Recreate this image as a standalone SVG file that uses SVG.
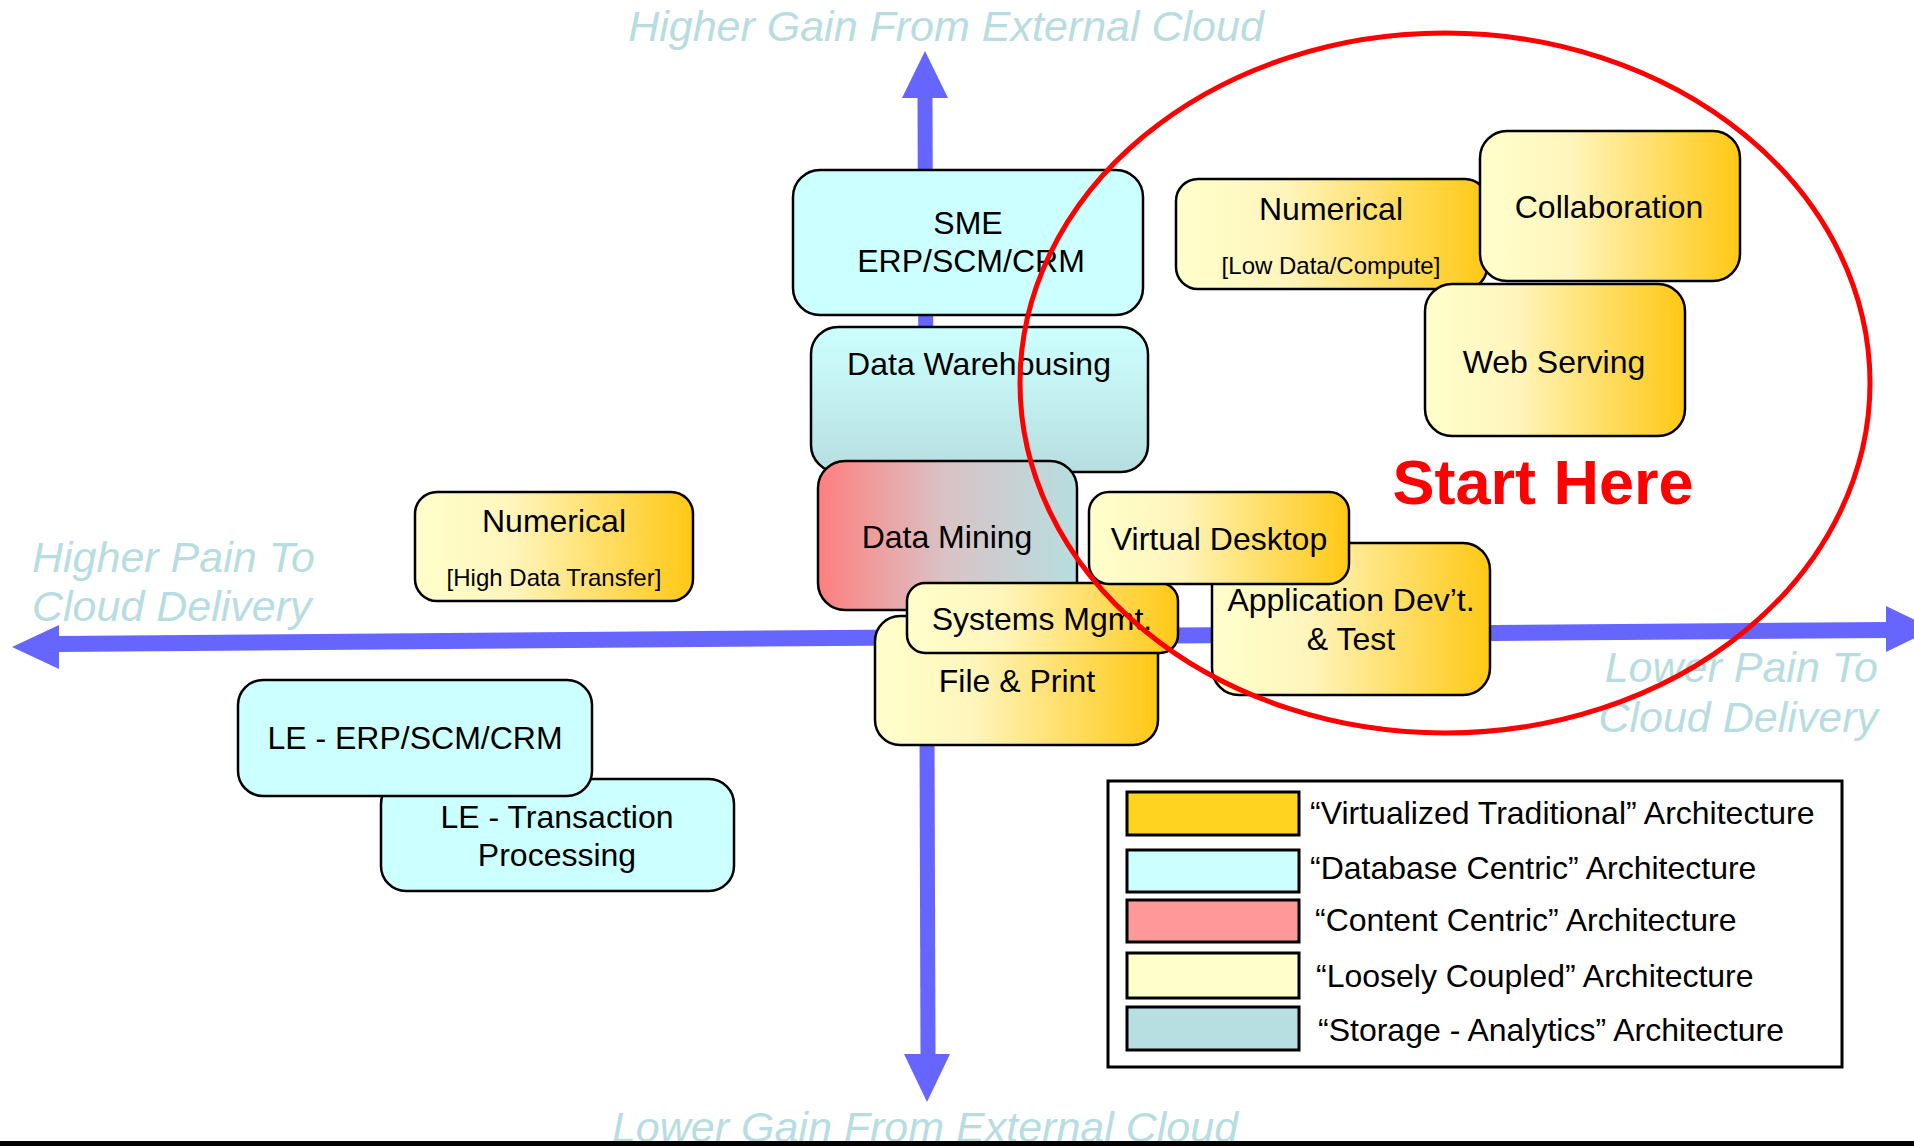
<svg xmlns="http://www.w3.org/2000/svg" width="1914" height="1146" viewBox="0 0 1914 1146">
  <defs>
    <linearGradient id="gYellow" x1="0" y1="0" x2="1" y2="0">
      <stop offset="0" stop-color="#FFFFCC"/>
      <stop offset="0.35" stop-color="#FFF5BC"/>
      <stop offset="1" stop-color="#FFC814"/>
    </linearGradient>
    <linearGradient id="gWarehouse" x1="0" y1="0" x2="0" y2="1">
      <stop offset="0" stop-color="#CCFFFF"/>
      <stop offset="0.25" stop-color="#C8F8F8"/>
      <stop offset="1" stop-color="#B7DEE0"/>
    </linearGradient>
    <linearGradient id="gMining" x1="0" y1="0" x2="1" y2="0">
      <stop offset="0" stop-color="#FF7F7F"/>
      <stop offset="0.5" stop-color="#D9C3C6"/>
      <stop offset="1" stop-color="#B7DEE0"/>
    </linearGradient>
    <style>
      .box { stroke: #000; stroke-width: 2.5; }
      .db { fill: #CCFFFF; }
      .vt { fill: url(#gYellow); }
      .lbl { font-family: "Liberation Sans", Arial, sans-serif; font-size: 32px; fill: #000; text-anchor: middle; }
      .sub { font-family: "Liberation Sans", Arial, sans-serif; font-size: 24px; fill: #000; text-anchor: middle; }
      .axis { font-family: "Liberation Sans", Arial, sans-serif; font-size: 43px; font-style: italic; fill: #B7DDE0; }
      .leg { font-family: "Liberation Sans", Arial, sans-serif; font-size: 32px; fill: #000; }
      .sw { stroke: #000; stroke-width: 3; }
      .ax { fill: #6666FF; }
    </style>
  </defs>

  <rect x="0" y="0" width="1914" height="1146" fill="#fff"/>

  <!-- axis captions -->
  <text class="axis" x="946" y="41" text-anchor="middle">Higher Gain From External Cloud</text>
  <text class="axis" x="32" y="572">Higher Pain To</text>
  <text class="axis" x="32" y="621">Cloud Delivery</text>
  <text class="axis" x="1878" y="682" text-anchor="end">Lower Pain To</text>
  <text class="axis" x="1878" y="732" text-anchor="end">Cloud Delivery</text>
  <text class="axis" x="925" y="1142" text-anchor="middle">Lower Gain From External Cloud</text>

  <!-- the two axes -->
  <g id="connectors">
    <polygon class="ax" points="917.5,96 932.5,96 935.5,1056 920.5,1056"/>
    <polygon class="ax" points="925,51 948,98 902,98"/>
    <polygon class="ax" points="927,1102 904,1054 950,1054"/>
    <polygon class="ax" points="57,636 1888,622 1888,638 57,652"/>
    <polygon class="ax" points="12,647 59,625 59,669"/>
    <polygon class="ax" points="1934,629 1886,606 1886,652"/>
  </g>

  <g id="le-transaction">
    <rect class="box db" x="381" y="779" width="353" height="112" rx="25"/>
    <text class="lbl" x="557" y="828">LE - Transaction</text>
    <text class="lbl" x="557" y="866">Processing</text>
  </g>
  <g id="le-erp">
    <rect class="box db" x="238" y="680" width="354" height="116" rx="25"/>
    <text class="lbl" x="415" y="749">LE - ERP/SCM/CRM</text>
  </g>
  <g id="numerical-high">
    <rect class="box vt" x="415" y="492" width="278" height="109" rx="22"/>
    <text class="lbl" x="554" y="532">Numerical</text>
    <text class="sub" x="554" y="586">[High Data Transfer]</text>
  </g>
  <g id="sme-erp">
    <rect class="box db" x="793" y="170" width="350" height="145" rx="27"/>
    <text class="lbl" x="968" y="234">SME</text>
    <text class="lbl" x="971" y="272">ERP/SCM/CRM</text>
  </g>
  <g id="data-warehousing">
    <rect class="box" fill="url(#gWarehouse)" x="811" y="327" width="337" height="145" rx="27"/>
    <text class="lbl" x="979" y="375">Data Warehousing</text>
  </g>
  <g id="data-mining">
    <rect class="box" fill="url(#gMining)" x="818" y="461" width="259" height="149" rx="27"/>
    <text class="lbl" x="947" y="548">Data Mining</text>
  </g>
  <g id="file-print">
    <rect class="box vt" x="875" y="616" width="283" height="129" rx="25"/>
    <text class="lbl" x="1017" y="692">File &amp; Print</text>
  </g>
  <g id="systems-mgmt">
    <rect class="box vt" x="907" y="583" width="271" height="70" rx="18"/>
    <text class="lbl" x="1042" y="630">Systems Mgmt.</text>
  </g>
  <g id="app-dev-test">
    <rect class="box vt" x="1212" y="543" width="278" height="152" rx="27"/>
    <text class="lbl" x="1351" y="611">Application Dev’t.</text>
    <text class="lbl" x="1351" y="650">&amp; Test</text>
  </g>
  <g id="virtual-desktop">
    <rect class="box vt" x="1089" y="492" width="260" height="92" rx="20"/>
    <text class="lbl" x="1219" y="550">Virtual Desktop</text>
  </g>
  <g id="numerical-low">
    <rect class="box vt" x="1176" y="179" width="311" height="110" rx="22"/>
    <text class="lbl" x="1331" y="220">Numerical</text>
    <text class="sub" x="1331" y="274">[Low Data/Compute]</text>
  </g>
  <g id="web-serving">
    <rect class="box vt" x="1425" y="284" width="260" height="152" rx="27"/>
    <text class="lbl" x="1554" y="373">Web Serving</text>
  </g>
  <g id="collaboration">
    <rect class="box vt" x="1480" y="131" width="260" height="150" rx="27"/>
    <text class="lbl" x="1609" y="218">Collaboration</text>
  </g>

  <!-- focus region -->
  <g id="start-here">
    <ellipse cx="1445" cy="383" rx="425" ry="350" fill="none" stroke="#FF0000" stroke-width="5"/>
    <text x="1543" y="504" text-anchor="middle" font-family="Liberation Sans, Arial, sans-serif" font-size="63" font-weight="bold" fill="#FF0000">Start Here</text>
  </g>

  <!-- legend -->
  <g id="legend">
    <rect x="1108" y="781" width="734" height="286" fill="#fff" stroke="#000" stroke-width="3"/>
    <rect class="sw" x="1127" y="792" width="172" height="43" fill="#FFD320"/>
    <text class="leg" x="1310" y="824">“Virtualized Traditional” Architecture</text>
    <rect class="sw" x="1127" y="850" width="172" height="42" fill="#CCFFFF"/>
    <text class="leg" x="1310" y="879">“Database Centric” Architecture</text>
    <rect class="sw" x="1127" y="900" width="172" height="42" fill="#FF9999"/>
    <text class="leg" x="1315" y="931">“Content Centric” Architecture</text>
    <rect class="sw" x="1127" y="953" width="172" height="45" fill="#FFFFCC"/>
    <text class="leg" x="1316" y="987">“Loosely Coupled” Architecture</text>
    <rect class="sw" x="1127" y="1007" width="172" height="43" fill="#B7DEE0"/>
    <text class="leg" x="1318" y="1041">“Storage - Analytics” Architecture</text>
  </g>

  <!-- bottom rule -->
  <rect x="0" y="1141" width="1914" height="5" fill="#000"/>
</svg>
